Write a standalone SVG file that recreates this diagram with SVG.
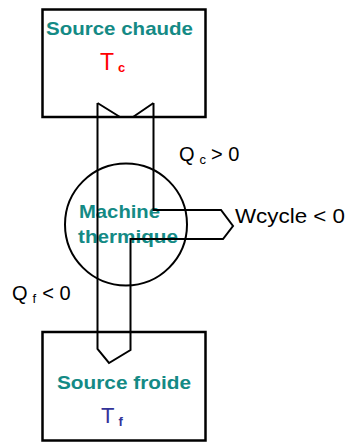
<svg xmlns="http://www.w3.org/2000/svg" width="347" height="442" viewBox="0 0 347 442">
<style>
.box{fill:#fff;stroke:#000;stroke-width:2.5}
.ln{fill:none;stroke:#000;stroke-width:2;stroke-linejoin:miter}
.lbl{font-family:"Liberation Sans",Arial,sans-serif;font-weight:bold;fill:#148a85}
.q{font-family:"Liberation Sans",Arial,sans-serif;fill:#000}
</style>
<rect width="347" height="442" fill="#fff"/>
<g id="source-chaude">
<rect class="box" x="42.5" y="9.5" width="163" height="107.5"/>
<text class="lbl" x="46" y="35" font-size="19" textLength="147" lengthAdjust="spacingAndGlyphs">Source chaude</text>
<text x="100" y="70" font-family="Liberation Sans,Arial,sans-serif" font-size="23" fill="#ff0000">T<tspan font-size="13" font-weight="bold" dx="4" dy="2">c</tspan></text>
</g>
<g id="machine">
<circle cx="126" cy="224.5" r="61" fill="none" stroke="#000" stroke-width="2"/>
<text class="lbl" x="79" y="218" font-size="19" textLength="81" lengthAdjust="spacingAndGlyphs">Machine</text>
<text class="lbl" x="78" y="243" font-size="19" textLength="100" lengthAdjust="spacingAndGlyphs">thermique</text>
</g>
<g id="source-froide">
<rect class="box" x="42.5" y="332" width="163" height="108.5"/>
<text class="lbl" x="57" y="389" font-size="19" textLength="134" lengthAdjust="spacingAndGlyphs">Source froide</text>
<text x="101" y="423" font-family="Liberation Sans,Arial,sans-serif" font-size="22" fill="#333399">T<tspan font-size="13" font-weight="bold" dx="4" dy="3">f</tspan></text>
</g>
<g id="connectors">
<path class="ln" d="M97.5,103 L120,117 M153.5,103 L133,117"/>
<path class="ln" d="M97.5,103 V349 L109,363 L130.5,350 V239 H223 L233,226 L221,210 H153.5 V103"/>
</g>
<g id="labels">
<text class="q" x="179" y="161" font-size="20">Q<tspan font-size="13" dx="5" dy="3">c</tspan><tspan dx="5" dy="-3">&gt; 0</tspan></text>
<text class="q" x="235" y="223" font-size="21" textLength="110" lengthAdjust="spacingAndGlyphs">Wcycle &lt; 0</text>
<text class="q" x="12" y="300" font-size="20">Q<tspan font-size="13" dx="5" dy="3">f</tspan><tspan dx="6" dy="-3">&lt; 0</tspan></text>
</g>
</svg>
